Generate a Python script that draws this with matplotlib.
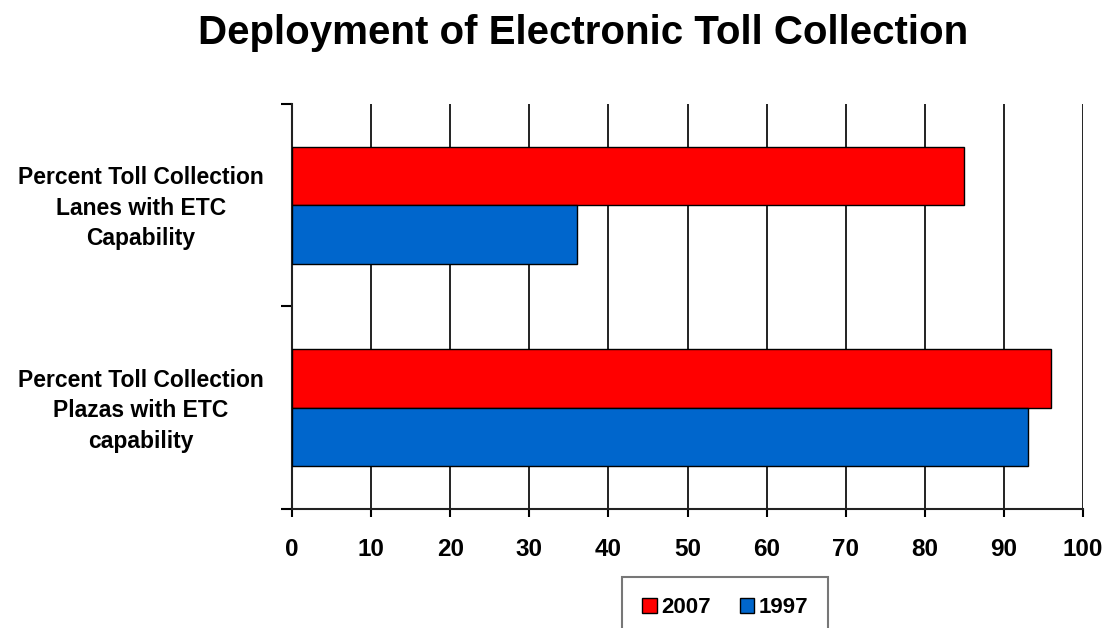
import matplotlib
matplotlib.use("Agg")
import matplotlib.pyplot as plt
import numpy as np

# Dados
categorias = [
    "Percent Toll Collection\nLanes with ETC\nCapability",
    "Percent Toll Collection\nPlazas with ETC\ncapability",
]
valores_2007 = [85, 96]
valores_1997 = [36, 93]
anos = ["2007", "1997"]
cores = ["#FF0000", "#0066CC"]
xticks = list(range(0, 101, 10))

plt.rcParams["font.family"] = ["Liberation Sans", "DejaVu Sans"]
plt.rcParams["font.weight"] = "bold"

fig = plt.figure(figsize=(11.07, 6.28), dpi=100)
ax = fig.add_axes([0.2638, 0.1895, 0.9783 - 0.2638, 0.8344 - 0.1895])

pos = np.arange(len(categorias))[::-1]  # primeira categoria em cima
h = 0.29
ax.barh(pos + h / 2, valores_2007, height=h, color=cores[0], edgecolor="black",
        linewidth=1, zorder=3, label=anos[0])
ax.barh(pos - h / 2, valores_1997, height=h, color=cores[1], edgecolor="black",
        linewidth=1, zorder=3, label=anos[1])

ax.set_xlim(0, 100)
ax.set_ylim(-0.5, len(categorias) - 0.5)
ax.set_xticks(xticks)
ax.set_xticklabels([str(t) for t in xticks], fontsize=17.5, fontweight="bold")
ax.tick_params(axis="x", direction="out", length=6, width=1.5, pad=15, colors="black")

# ticks nas fronteiras das categorias
ax.set_yticks(np.arange(-0.5, len(categorias), 1.0))
ax.set_yticklabels([])
ax.tick_params(axis="y", direction="out", length=8, width=1.5)

ax.xaxis.grid(True, color="#222222", linewidth=1.4, zorder=0)
ax.set_axisbelow(True)
for s in ["top", "right"]:
    ax.spines[s].set_visible(False)
for s in ["left", "bottom"]:
    ax.spines[s].set_linewidth(1.5)
    ax.spines[s].set_color("#222222")

# rótulos das categorias
for p, cat in zip(pos, categorias):
    ax.text(-0.191, p - 0.015, cat, transform=ax.get_yaxis_transform(), ha="center",
            va="center", fontsize=16.5, fontweight="bold", linespacing=1.42)

fig.suptitle("Deployment of Electronic Toll Collection", x=0.527, y=0.978,
             fontsize=29, fontweight="bold")

leg = fig.legend(loc="upper left", bbox_to_anchor=(0.562, 0.0812), ncol=2,
                 frameon=True, fancybox=False, handlelength=0.65,
                 handleheight=0.65, handletextpad=0.2, columnspacing=1.3,
                 borderpad=0.9, borderaxespad=0,
                 prop={"weight": "bold", "size": 16})
leg.get_frame().set_edgecolor("#555555")
leg.get_frame().set_linewidth(1.5)

fig.savefig("out.png", dpi=100)
